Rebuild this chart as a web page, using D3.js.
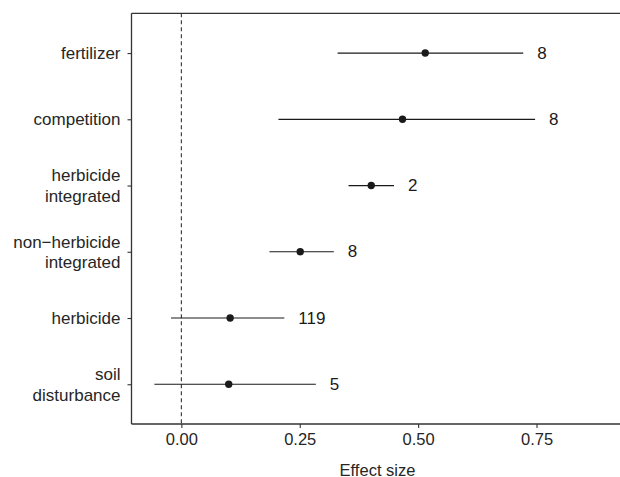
<!DOCTYPE html>
<html>
<head>
<meta charset="utf-8">
<script src="https://cdn.jsdelivr.net/npm/d3@7"></script>
<style>
  html, body { margin: 0; padding: 0; background: #fff; overflow: hidden; }
  svg { display: block; font-family: "Liberation Sans", Arial, Helvetica, sans-serif; }
</style>
</head>
<body>
<svg id="chart" width="620" height="477"></svg>
<script>
// Treatment categories, top to bottom (two-line labels split on "\n")
const categories = [
  "fertilizer",
  "competition",
  "herbicide\nintegrated",
  "non\u2212herbicide\nintegrated",
  "herbicide",
  "soil\ndisturbance"
];
// Mean effect size and confidence limits per treatment
const estimates = [0.515, 0.467, 0.401, 0.251, 0.103, 0.100];
const lowerCI   = [0.330, 0.205, 0.353, 0.186, -0.022, -0.057];
const upperCI   = [0.722, 0.747, 0.449, 0.322, 0.2175, 0.284];
// Number of studies per treatment
const counts    = ["8", "8", "2", "8", "119", "5"];
// X-axis ticks
const xTicks    = [0, 0.25, 0.5, 0.75];
const xTickLabels = ["0.00", "0.25", "0.50", "0.75"];

const data = categories.map((c, i) => ({
  cat: c, est: estimates[i], lo: lowerCI[i], hi: upperCI[i], n: counts[i]
}));

const svg = d3.select("#chart");
const panelLeft = 131.5, panelRight = 623.5, panelTop = 13.3, panelBottom = 424;
const ink = "#1a1a1a";
const labelInk = "#262626";
const fontSize = 17;

const x = d3.scaleLinear().domain([-0.1053, 0.9337]).range([panelLeft, panelRight]);
const y = d3.scalePoint().domain(categories).range([panelTop, panelBottom]).padding(0.6);

// Reference line at zero
svg.append("line")
  .attr("x1", x(0)).attr("x2", x(0))
  .attr("y1", panelTop).attr("y2", panelBottom)
  .attr("stroke", "#333").attr("stroke-width", 1.1)
  .attr("stroke-dasharray", "4,3");

// Confidence intervals
svg.append("g").selectAll("line").data(data).join("line")
  .attr("x1", d => x(d.lo)).attr("x2", d => x(d.hi))
  .attr("y1", d => y(d.cat)).attr("y2", d => y(d.cat))
  .attr("stroke", ink).attr("stroke-width", 1.2);

// Point estimates
svg.append("g").selectAll("circle").data(data).join("circle")
  .attr("cx", d => x(d.est)).attr("cy", d => y(d.cat))
  .attr("r", 3.7).attr("fill", ink);

// Study counts beside each interval
svg.append("g").selectAll("text").data(data).join("text")
  .attr("x", d => x(d.hi) + 14).attr("y", d => y(d.cat))
  .attr("dominant-baseline", "central")
  .attr("font-size", fontSize).attr("fill", ink)
  .text(d => d.n);

// X axis
const xAxis = svg.append("g")
  .attr("transform", `translate(0,${panelBottom})`)
  .call(d3.axisBottom(x).tickValues(xTicks)
    .tickFormat((d, i) => xTickLabels[i]).tickSize(4).tickPadding(5));
xAxis.select(".domain").remove();
xAxis.selectAll(".tick line").attr("stroke", "#333").attr("stroke-width", 1.1);
xAxis.selectAll(".tick text")
  .attr("font-size", fontSize - 0.5).attr("fill", labelInk)
  .attr("font-family", "Liberation Sans, Arial, sans-serif");

// Y axis
const yAxis = svg.append("g")
  .attr("transform", `translate(${panelLeft},0)`)
  .call(d3.axisLeft(y).tickSize(4).tickPadding(7).tickFormat(""));
yAxis.select(".domain").remove();
yAxis.selectAll(".tick line").attr("stroke", "#333").attr("stroke-width", 1.1);

// Category labels, possibly over two lines
const lineGap = 20.5;
yAxis.selectAll(".tick").each(function(d) {
  const lines = d.split("\n");
  const t = d3.select(this).append("text")
    .attr("x", -11).attr("text-anchor", "end")
    .attr("font-size", fontSize).attr("fill", labelInk)
    .attr("font-family", "Liberation Sans, Arial, sans-serif");
  lines.forEach((ln, k) => {
    t.append("tspan")
      .attr("x", -11)
      .attr("y", (k - (lines.length - 1) / 2) * lineGap)
      .attr("dominant-baseline", "central")
      .text(ln);
  });
});

// Panel frame: left edge, plus top and bottom edges running off the right of the view
const frameEnd = panelRight + 20;
const frame = svg.append("g").attr("stroke", "#333").attr("stroke-width", 1.3).attr("fill", "none");
frame.append("line").attr("x1", panelLeft).attr("x2", panelLeft).attr("y1", panelTop).attr("y2", panelBottom);
frame.append("line").attr("x1", panelLeft).attr("x2", frameEnd).attr("y1", panelTop).attr("y2", panelTop);
frame.append("line").attr("x1", panelLeft).attr("x2", frameEnd).attr("y1", panelBottom).attr("y2", panelBottom);

// Axis title
svg.append("text")
  .attr("x", (panelLeft + panelRight) / 2).attr("y", 475.5)
  .attr("text-anchor", "middle")
  .attr("font-size", fontSize - 0.5).attr("fill", labelInk)
  .text("Effect size");
</script>
</body>
</html>
